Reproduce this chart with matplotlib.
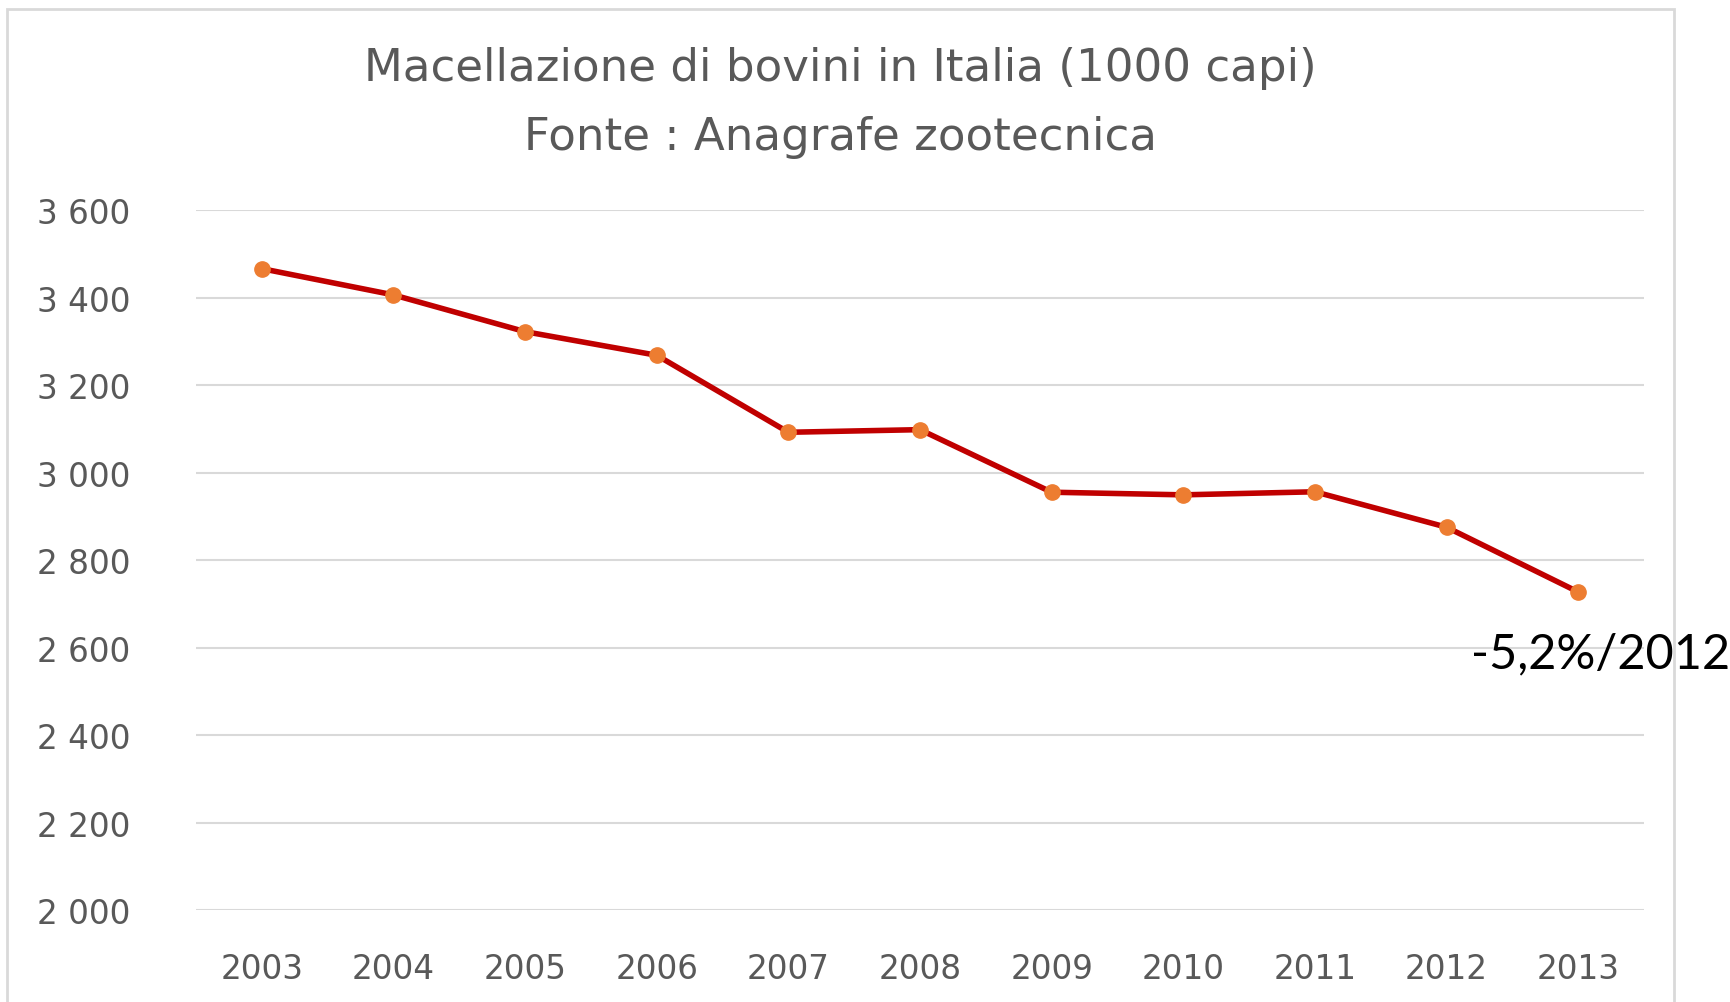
import numpy as np
import matplotlib
matplotlib.use("Agg")
import matplotlib.pyplot as plt
from matplotlib.ticker import FuncFormatter
from matplotlib.patches import Rectangle

# macellazione bovini, migliaia di capi
anni = ["2003", "2004", "2005", "2006", "2007", "2008",
        "2009", "2010", "2011", "2012", "2013"]
capi = [3466, 3406, 3322, 3268, 3092, 3098, 2955, 2949, 2956, 2875, 2727]
y_ticks = [2000, 2200, 2400, 2600, 2800, 3000, 3200, 3400, 3600]

titolo1 = "Macellazione di bovini in Italia (1000 capi)"
titolo2 = "Fonte : Anagrafe zootecnica"
nota = "-5,2%/2012"

grigio = "#595959"

fig = plt.figure(figsize=(17.3, 10.03), dpi=100)
ax = fig.add_axes([0.1133, 0.0917, 0.9503 - 0.1133, 0.7896 - 0.0917])

x = np.arange(len(anni))
ax.plot(x, capi, color="#C00000", lw=4, marker="o", ms=11,
        mfc="#ED7D31", mec="#ED7D31", zorder=3)

ax.set_xlim(-0.5, len(anni) - 0.5)
ax.set_ylim(y_ticks[0], y_ticks[-1])
ax.set_xticks(x)
ax.set_xticklabels(anni)
ax.set_yticks(y_ticks)
ax.yaxis.set_major_formatter(FuncFormatter(lambda v, p: f"{int(v):,}".replace(",", " ")))
ax.grid(axis="y", color="#D9D9D9", lw=1.5)
ax.set_axisbelow(True)
for s in ax.spines.values():
    s.set_visible(False)
ax.tick_params(length=0, labelsize=23.5, labelcolor=grigio)
ax.tick_params(axis="x", pad=30)
ax.tick_params(axis="y", pad=47)

# annotazione variazione
ax.text(len(anni) - 1 + 0.17, 2587, nota, ha="center", va="center",
        fontsize=35, family="Lato", color="black", zorder=5)

fig.text(0.486, 0.932, titolo1, ha="center", va="center", fontsize=32.5, color=grigio)
fig.text(0.486, 0.863, titolo2, ha="center", va="center", fontsize=32.5, color=grigio)

# cornice del grafico
fig.patches.append(Rectangle((7 / 1730, -0.05), (1674 - 7) / 1730, 1.05 - 10 / 1003,
                             transform=fig.transFigure, fill=False,
                             ec="#D9D9D9", lw=2, zorder=0))

fig.savefig("out.png", dpi=100)
